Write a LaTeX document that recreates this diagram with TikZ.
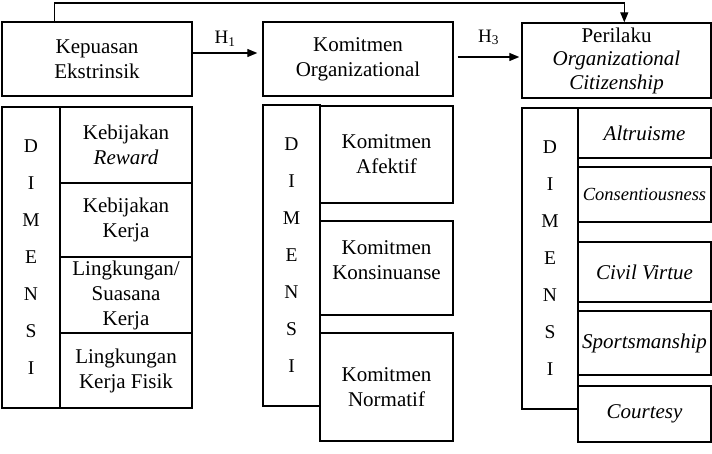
\documentclass[tikz,border=0pt]{standalone}
\usepackage{fontspec}
\setmainfont{Liberation Serif}
\usetikzlibrary{arrows.meta}
\begin{document}
\begin{tikzpicture}[x=1pt,y=-1pt,
  box/.style={draw,line width=1.4pt,align=center,inner sep=0pt,font=\fontsize{21}{25}\selectfont},
  dim/.style={box,font=\fontsize{19.5}{37}\selectfont},
  arr/.style={line width=1.3pt,-{Triangle[length=10pt,width=8pt]}}]
\useasboundingbox (0,0) rectangle (712,454);
\node[box,minimum width=190,minimum height=74] (kep) at (97,59) {Kepuasan\\Ekstrinsik};
\node[box,minimum width=190,minimum height=74] (kom) at (358,59) {Komitmen\\Organizational};
\node[box,minimum width=189,minimum height=75,font=\fontsize{21}{23.5}\selectfont] (ocb) at (616.5,60.5) {Perilaku\\\textit{Organizational}\\\textit{Citizenship}};
\node[dim,minimum width=58,minimum height=301] (dimA) at (31,257.5) {D\\I\\M\\E\\N\\S\\I};
\node[box,minimum width=132,minimum height=76] (a1) at (126,145) {Kebijakan\\\textit{Reward}};
\node[box,minimum width=132,minimum height=74] (a2) at (126,220) {Kebijakan\\Kerja};
\node[box,minimum width=132,minimum height=76] (a3) at (126,295) {Lingkungan/\\Suasana\\Kerja};
\node[box,minimum width=132,minimum height=75] (a4) at (126,370.5) {Lingkungan\\Kerja Fisik};
\node[dim,minimum width=57,minimum height=301] (dimB) at (291.5,255.5) {D\\I\\M\\E\\N\\S\\I};
\node[box,minimum width=133,minimum height=97] (b1) at (386.5,154.5) {Komitmen\\Afektif};
\node[box,minimum width=133,minimum height=94,text depth=15pt] (b2) at (386.5,268) {Komitmen\\Konsinuanse};
\node[box,minimum width=133,minimum height=108] (b3) at (386.5,387) {Komitmen\\Normatif};
\node[dim,minimum width=56,minimum height=301] (dimC) at (550,258.5) {D\\I\\M\\E\\N\\S\\I};
\node[box,minimum width=133,minimum height=50] (c1) at (644.5,133) {\textit{Altruisme}};
\node[box,minimum width=133,minimum height=55,font=\fontsize{18.5}{20}\selectfont] (c2) at (644.5,194.5) {\textit{Consentiousness}};
\node[box,minimum width=133,minimum height=60] (c3) at (644.5,272) {\textit{Civil Virtue}};
\node[box,minimum width=133,minimum height=64] (c4) at (644.5,343) {\textit{Sportsmanship}};
\node[box,minimum width=133,minimum height=56] (c5) at (644.5,414) {\textit{Courtesy}};
\coordinate (loop) at (340,3);
\draw[arr] ([yshift=6pt]kep.east) -- ([xshift=-5pt,yshift=6pt]kom.west)
  node[midway,above=3pt,font=\fontsize{19}{22}\selectfont] {H\textsubscript{1}};
\draw[arr] ([xshift=4pt,yshift=2pt]kom.east) -- ([xshift=-2pt,yshift=3.5pt]ocb.west)
  node[midway,above=8pt,font=\fontsize{19}{22}\selectfont] {H\textsubscript{3}};
\draw[arr] ([xshift=53pt]kep.north west) |- (loop) -| ([xshift=103pt]ocb.north west);
\end{tikzpicture}
\end{document}
